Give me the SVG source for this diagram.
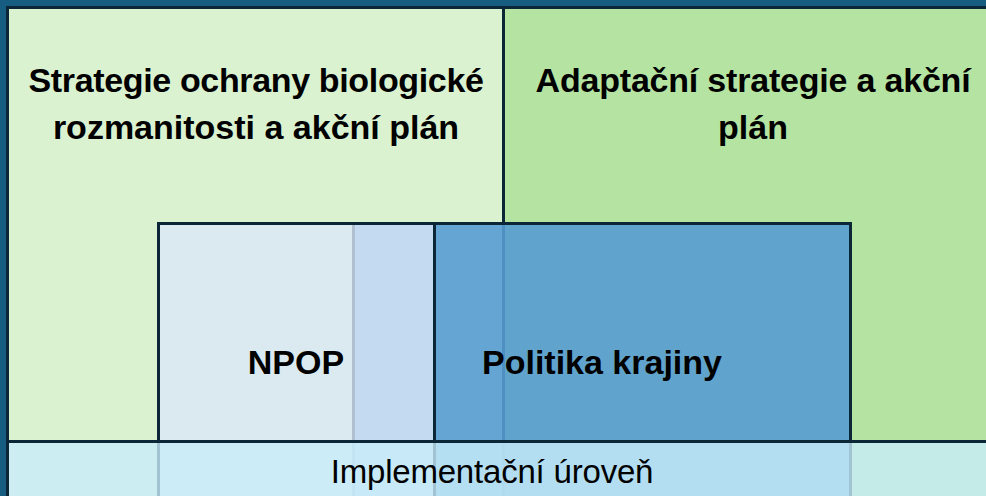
<svg xmlns="http://www.w3.org/2000/svg" width="986" height="496" viewBox="0 0 986 496">
<style>
.box{stroke:#0b2636;stroke-width:3}
.h{font-family:"Liberation Sans",Arial,sans-serif;font-weight:bold;font-size:34px;fill:#000;text-anchor:middle}
.r{font-family:"Liberation Sans",Arial,sans-serif;font-size:33px;fill:#000;text-anchor:middle;letter-spacing:-0.2px}
</style>
<rect x="0" y="0" width="986" height="496" fill="#175d81"/>
<g id="strategie-biodiverzita">
<rect class="box" x="7.5" y="7.5" width="496" height="520" fill="#daf2d0"/>
<text class="h" x="256" y="92" letter-spacing="-0.35">Strategie ochrany biologické</text>
<text class="h" x="256" y="139">rozmanitosti a akční plán</text>
</g>
<g id="adaptacni-strategie">
<rect class="box" x="503.5" y="7.5" width="500" height="520" fill="#b5e4a2"/>
<text class="h" x="753" y="92" letter-spacing="-0.2">Adaptační strategie a akční</text>
<text class="h" x="753" y="139">plán</text>
</g>
<g id="politika-krajiny">
<rect class="box" x="353.5" y="223.5" width="497" height="300" fill="#579cd3" fill-opacity="0.9"/>
<text class="h" x="602" y="374">Politika krajiny</text>
</g>
<g id="npop">
<rect class="box" x="158.5" y="223.5" width="276" height="300" fill="#dbe7f7" fill-opacity="0.8"/>
<text class="h" x="296" y="374">NPOP</text>
</g>
<g id="implementacni-uroven">
<rect class="box" x="7.5" y="441.5" width="1000" height="80" fill="#c8ecfa" fill-opacity="0.8"/>
<text class="r" x="492" y="483">Implementační úroveň</text>
</g>
<g id="connectors"/>
</svg>
